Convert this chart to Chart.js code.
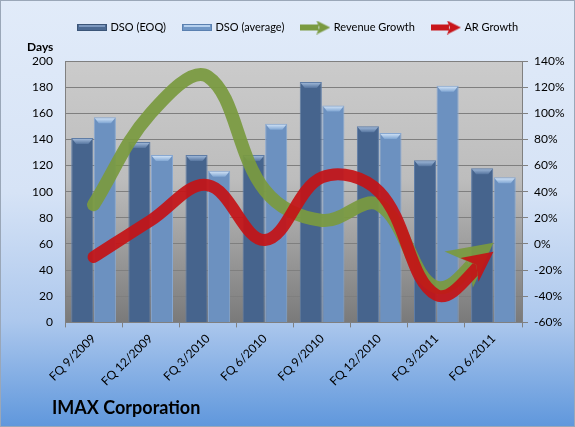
<!DOCTYPE html>
<html>
<head>
<meta charset="utf-8">
<script src="https://cdn.jsdelivr.net/npm/chart.js@4.4.1/dist/chart.umd.min.js"></script>
<style>
  html, body { margin: 0; padding: 0; }
  #wrap { width: 575px; height: 427px; }
</style>
</head>
<body>
<div id="wrap"><canvas id="chart" width="575" height="427"></canvas></div>
<script>
const quarters = ['FQ 9/2009', 'FQ 12/2009', 'FQ 3/2010', 'FQ 6/2010', 'FQ 9/2010', 'FQ 12/2010', 'FQ 3/2011', 'FQ 6/2011'];
const dsoEoq = [141, 138, 128, 128, 184, 150, 124, 118];
const dsoAverage = [157, 128, 116, 152, 166, 145, 181, 111];
const revenueGrowth = [30, 100, 128, 41, 18, 30, -33, 1];
const arGrowth = [-10, 18, 45, 3, 51, 40, -39, -6];

const FONT = 'Lato, "Open Sans", sans-serif';
const GREEN = 'rgba(122,154,64,0.93)';
const RED = 'rgba(196,18,22,0.92)';

// little pictures for the legend
function barSwatch(fill, edge, light) {
  const c = document.createElement('canvas');
  c.width = 30; c.height = 7;
  const g = c.getContext('2d');
  g.fillStyle = edge; g.fillRect(0, 0, 30, 7);
  g.fillStyle = fill; g.fillRect(1, 1, 28, 5);
  g.fillStyle = light; g.fillRect(2, 1, 26, 2);
  return c;
}
function arrowSwatch(color) {
  const c = document.createElement('canvas');
  c.width = 30; c.height = 14;
  const g = c.getContext('2d');
  g.fillStyle = color;
  g.fillRect(0, 4, 18, 6);
  g.beginPath();
  g.moveTo(16, 0); g.lineTo(30, 7); g.lineTo(16, 14); g.lineTo(19, 7);
  g.closePath(); g.fill();
  return c;
}
const legendIcons = [
  barSwatch('#4c6a93', '#3b5578', '#7c98bf'),
  barSwatch('#7097c6', '#5a80b0', '#b5d0ee'),
  arrowSwatch('#7a9a40'),
  arrowSwatch('#c8161b')
];

// arrow geometry at the end of a line dataset
function arrowFor(meta, len, hw) {
  const pts = meta.data;
  const p = pts[pts.length - 1];
  const q = pts[pts.length - 2];
  let dx = p.x - q.x, dy = p.y - q.y;
  const d = Math.hypot(dx, dy);
  dx /= d; dy /= d;
  const nx = -dy, ny = dx;
  const bx = p.x - dx * len, by = p.y - dy * len;
  return {
    tip: [p.x, p.y],
    c1: [bx + nx * hw, by + ny * hw],
    c2: [bx - nx * hw, by - ny * hw],
    notch: [p.x - dx * len * 0.72, p.y - dy * len * 0.72],
    dx, dy
  };
}

const decor = {
  id: 'decor',
  beforeDraw(chart) {
    const ctx = chart.ctx, a = chart.chartArea;
    const W = chart.width, H = chart.height;
    ctx.save();
    const bg = ctx.createLinearGradient(0, 0, 0, H);
    bg.addColorStop(0, '#e1ebf9');
    bg.addColorStop(0.45, '#d6e3f6');
    bg.addColorStop(0.75, '#adc8ed');
    bg.addColorStop(1, '#5f97dc');
    ctx.fillStyle = bg;
    ctx.fillRect(0, 0, W, H);
    ctx.strokeStyle = '#9aa7b8';
    ctx.lineWidth = 1;
    ctx.strokeRect(0.5, 0.5, W - 1, H - 1);
    const pg = ctx.createLinearGradient(0, a.top, 0, a.bottom);
    pg.addColorStop(0, '#cbcbcb');
    pg.addColorStop(0.45, '#bdbdbd');
    pg.addColorStop(1, '#7a7a7a');
    ctx.fillStyle = pg;
    ctx.fillRect(a.left, a.top, a.right - a.left, a.bottom - a.top);
    ctx.restore();
  },
  afterLayout(chart) {
    // push legend and title to where the reference has them
    chart.legend.left = 61;
    chart.legend.right = 61 + chart.width;
    chart.legend.top = 4;
    chart.titleBlock.left = 52;
    chart.titleBlock.right = 52 + chart.width;
  },
  beforeDatasetDraw(chart, args) {
    const ds = chart.data.datasets[args.index];
    if (ds.type !== 'line') return;
    const ar = arrowFor(args.meta, ds.arrowLen, ds.arrowHalf);
    const ctx = chart.ctx;
    ctx.save();
    ctx.beginPath();
    ctx.rect(0, 0, chart.width, chart.height);
    const f = 80;
    ctx.moveTo(ar.notch[0], ar.notch[1]);
    ctx.lineTo(ar.c1[0], ar.c1[1]);
    ctx.lineTo(ar.c1[0] + ar.dx * f, ar.c1[1] + ar.dy * f);
    ctx.lineTo(ar.c2[0] + ar.dx * f, ar.c2[1] + ar.dy * f);
    ctx.lineTo(ar.c2[0], ar.c2[1]);
    ctx.closePath();
    ctx.clip('evenodd');
  },
  afterDatasetDraw(chart, args) {
    const ctx = chart.ctx;
    const ds = chart.data.datasets[args.index];
    if (ds.type === 'line') {
      ctx.restore();
      const ar = arrowFor(args.meta, ds.arrowLen, ds.arrowHalf);
      ctx.save();
      ctx.fillStyle = ds.borderColor;
      ctx.beginPath();
      ctx.moveTo(ar.tip[0], ar.tip[1]);
      ctx.lineTo(ar.c1[0], ar.c1[1]);
      ctx.lineTo(ar.notch[0], ar.notch[1]);
      ctx.lineTo(ar.c2[0], ar.c2[1]);
      ctx.closePath();
      ctx.fill();
      ctx.restore();
      return;
    }
    // bevelled tops of the bars
    ctx.save();
    args.meta.data.forEach(bar => {
      const l = bar.x - bar.width / 2, r = bar.x + bar.width / 2, t = bar.y;
      const g = ctx.createLinearGradient(0, t, 0, t + 6);
      g.addColorStop(0, ds.capLight);
      g.addColorStop(1, ds.capDark);
      ctx.fillStyle = g;
      ctx.beginPath();
      ctx.moveTo(l + 1, t + 1);
      ctx.lineTo(r - 1, t + 1);
      ctx.lineTo(r - 5, t + 6);
      ctx.lineTo(l + 5, t + 6);
      ctx.closePath();
      ctx.fill();
    });
    ctx.restore();
  },
  afterDraw(chart) {
    const ctx = chart.ctx;
    ctx.save();
    ctx.fillStyle = '#000';
    ctx.font = 'bold 12px ' + FONT;
    ctx.textAlign = 'left';
    ctx.textBaseline = 'middle';
    ctx.fillText('Days', 27, 47);
    ctx.restore();
  }
};

new Chart(document.getElementById('chart'), {
  data: {
    labels: quarters,
    datasets: [
      {
        type: 'bar', label: 'DSO (EOQ)', data: dsoEoq, yAxisID: 'y', order: 2,
        backgroundColor: '#46648d', borderColor: '#5f7da6', borderWidth: 1,
        capLight: '#a9c1e0', capDark: '#56759f',
        categoryPercentage: 0.79, barPercentage: 0.98
      },
      {
        type: 'bar', label: 'DSO (average)', data: dsoAverage, yAxisID: 'y', order: 3,
        backgroundColor: '#6c91c0', borderColor: '#88a8d1', borderWidth: 1,
        capLight: '#dbeafa', capDark: '#80a6d3',
        categoryPercentage: 0.79, barPercentage: 0.98
      },
      {
        type: 'line', label: 'Revenue Growth', data: revenueGrowth, yAxisID: 'y1', order: 1,
        borderColor: GREEN, borderWidth: 13, pointRadius: 0, tension: 0.38,
        borderCapStyle: 'round', borderJoinStyle: 'round', fill: false,
        arrowLen: 44, arrowHalf: 23
      },
      {
        type: 'line', label: 'AR Growth', data: arGrowth, yAxisID: 'y1', order: 0,
        borderColor: RED, borderWidth: 12, pointRadius: 0, tension: 0.38,
        borderCapStyle: 'round', borderJoinStyle: 'round', fill: false,
        arrowLen: 30, arrowHalf: 15
      }
    ]
  },
  options: {
    responsive: false,
    animation: false,
    layout: { padding: { top: 22, left: 0, right: 0, bottom: 0 } },
    plugins: {
      tooltip: { enabled: false },
      legend: {
        position: 'top',
        align: 'start',
        labels: {
          usePointStyle: true,
          pointStyleWidth: 26,
          padding: 18,
          color: '#000',
          font: { family: FONT, size: 11 },
          generateLabels(chart) {
            return chart.data.datasets.map((ds, i) => ({
              text: ds.label,
              pointStyle: legendIcons[i],
              fillStyle: 'transparent',
              strokeStyle: 'transparent',
              lineWidth: 0,
              fontColor: '#000',
              datasetIndex: i
            }));
          }
        }
      },
      title: {
        display: true,
        text: 'IMAX Corporation',
        position: 'bottom',
        align: 'start',
        color: '#000',
        font: { family: FONT, size: 18, weight: 'bold' },
        padding: { top: 0, bottom: 8 }
      }
    },
    scales: {
      x: {
        offset: true,
        grid: { offset: true, drawOnChartArea: false, color: '#808080', tickLength: 5 },
        border: { color: '#808080' },
        ticks: {
          color: '#000', font: { family: FONT, size: 12 },
          maxRotation: 45, minRotation: 45, padding: 4
        },
        afterFit(s) { s.height = 75; }
      },
      y: {
        position: 'left',
        min: 0, max: 200,
        grid: { color: '#7f7f7f', drawTicks: false },
        border: { color: '#808080' },
        ticks: { stepSize: 20, color: '#000', font: { family: FONT, size: 12 }, padding: 12 },
        afterFit(s) { s.width = 65; }
      },
      y1: {
        position: 'right',
        min: -60, max: 140,
        grid: { drawOnChartArea: false, color: '#808080', tickLength: 6 },
        border: { color: '#808080' },
        ticks: {
          stepSize: 20, color: '#000', font: { family: FONT, size: 12 }, padding: 6,
          callback: v => v + '%'
        },
        afterFit(s) { s.width = 53; }
      }
    }
  },
  plugins: [decor]
});
</script>
</body>
</html>
